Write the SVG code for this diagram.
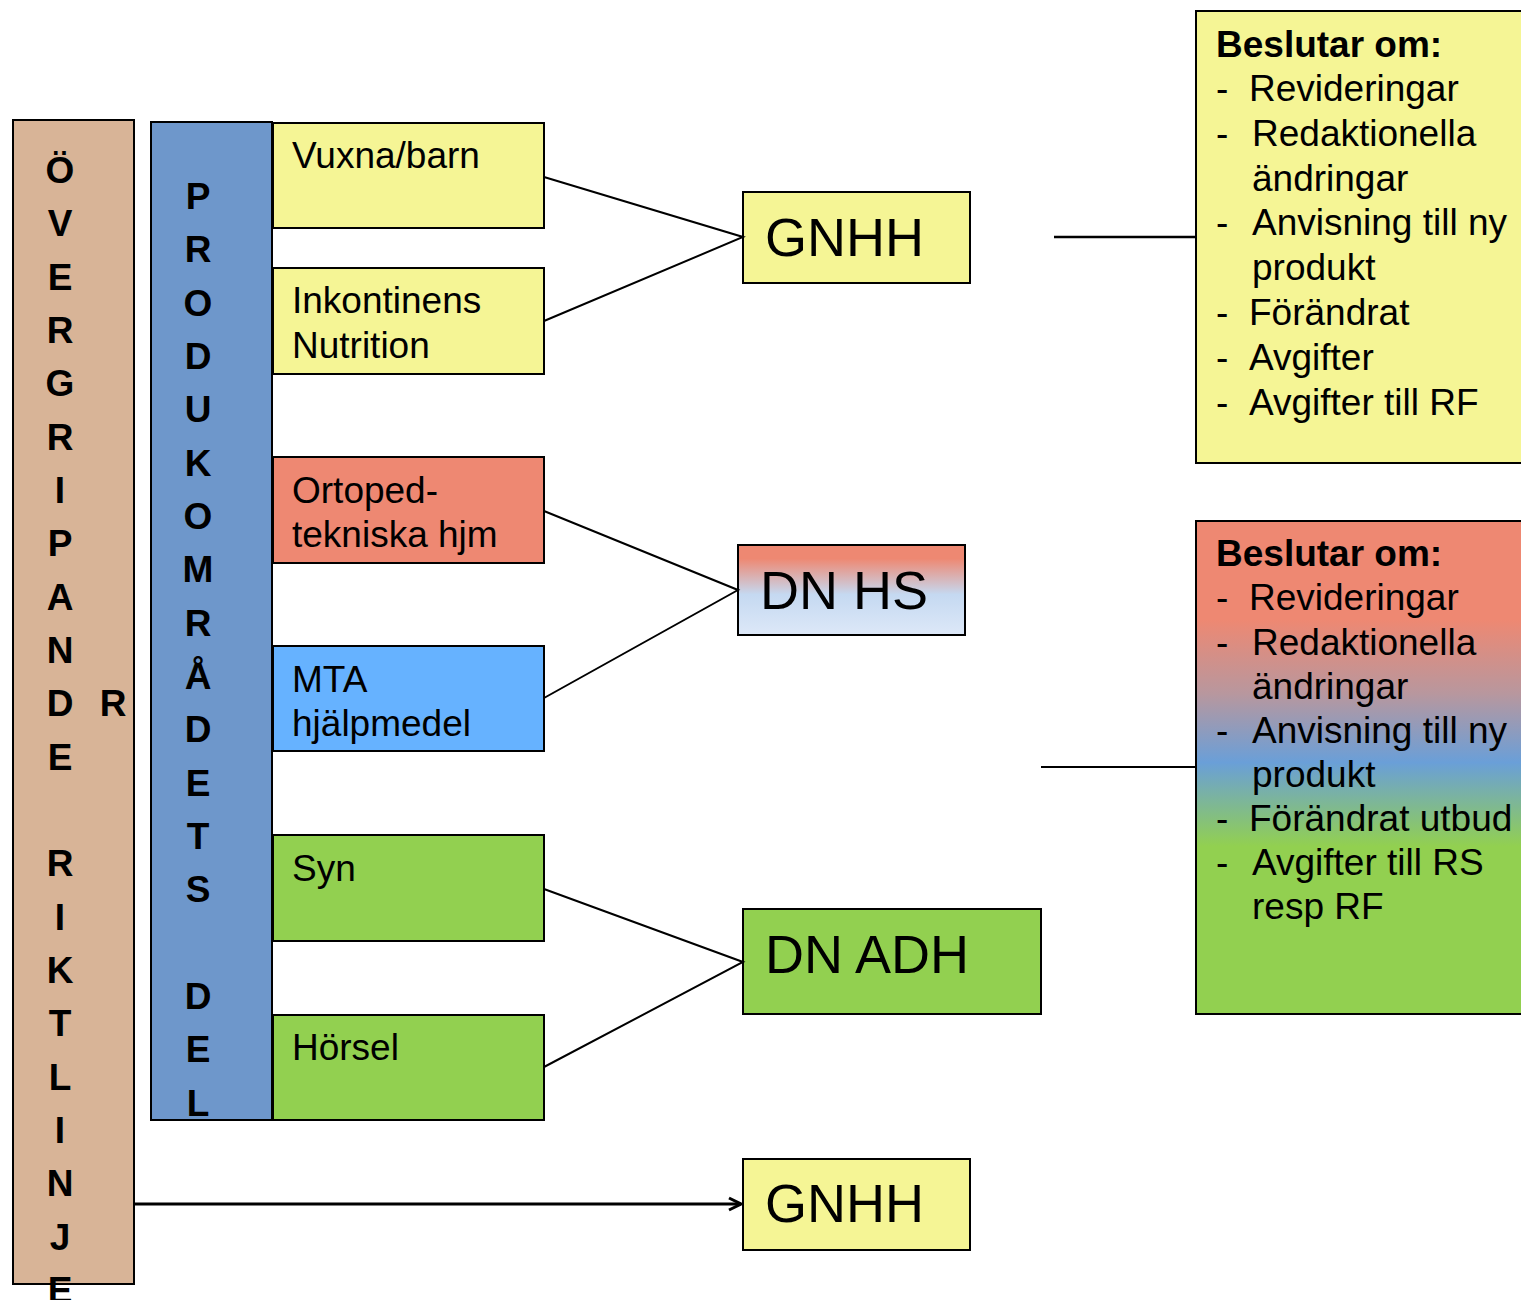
<svg xmlns="http://www.w3.org/2000/svg" width="1521" height="1300" viewBox="0 0 1521 1300">
<style>
text{font-family:"Liberation Sans",Arial,sans-serif;fill:#000}
.t{font-size:37px}
.b{font-size:37px;font-weight:bold}
.big{font-size:54px}
.box{stroke:#000;stroke-width:2}
.yel{fill:#F5F595}
.ln{stroke:#000;stroke-width:2;fill:none}
.col{font-size:37px;font-weight:bold;text-anchor:middle}
</style>
<defs>
<linearGradient id="gHS" x1="0" y1="0" x2="0" y2="1">
<stop offset="0" stop-color="#EE8872"/>
<stop offset="0.15" stop-color="#EE8872"/>
<stop offset="0.55" stop-color="#C5D9F1"/>
<stop offset="1" stop-color="#DDE8F8"/>
</linearGradient>
<linearGradient id="gR" x1="0" y1="0" x2="0" y2="1">
<stop offset="0" stop-color="#EE8872"/>
<stop offset="0.2" stop-color="#EE8872"/>
<stop offset="0.35" stop-color="#B8979E"/>
<stop offset="0.49" stop-color="#6A9FD8"/>
<stop offset="0.66" stop-color="#92D050"/>
<stop offset="1" stop-color="#92D050"/>
</linearGradient>
<marker id="arr" markerWidth="16" markerHeight="16" refX="14" refY="8" orient="auto" markerUnits="userSpaceOnUse">
<path d="M2,2 L14,8 L2,14" fill="none" stroke="#000" stroke-width="3"/>
</marker>
</defs>

<g id="col-overgripande">
<rect class="box" x="13" y="120" width="121" height="1164" fill="#D8B497"/>
<text class="col" x="60" y="183"><tspan x="60">Ö</tspan><tspan x="60" dy="53.33">V</tspan><tspan x="60" dy="53.33">E</tspan><tspan x="60" dy="53.33">R</tspan><tspan x="60" dy="53.33">G</tspan><tspan x="60" dy="53.33">R</tspan><tspan x="60" dy="53.33">I</tspan><tspan x="60" dy="53.33">P</tspan><tspan x="60" dy="53.33">A</tspan><tspan x="60" dy="53.33">N</tspan><tspan x="60" dy="53.33">D</tspan><tspan x="60" dy="53.33">E</tspan><tspan x="60" dy="106.66">R</tspan><tspan x="60" dy="53.33">I</tspan><tspan x="60" dy="53.33">K</tspan><tspan x="60" dy="53.33">T</tspan><tspan x="60" dy="53.33">L</tspan><tspan x="60" dy="53.33">I</tspan><tspan x="60" dy="53.33">N</tspan><tspan x="60" dy="53.33">J</tspan><tspan x="60" dy="53.33">E</tspan></text>
<text class="col" x="113" y="716">R</text>
</g>

<g id="col-produkt">
<rect class="box" x="151" y="122" width="121" height="998" fill="#6E97CB"/>
<text class="col" x="198" y="209"><tspan x="198">P</tspan><tspan x="198" dy="53.33">R</tspan><tspan x="198" dy="53.33">O</tspan><tspan x="198" dy="53.33">D</tspan><tspan x="198" dy="53.33">U</tspan><tspan x="198" dy="53.33">K</tspan><tspan x="198" dy="53.33">O</tspan><tspan x="198" dy="53.33">M</tspan><tspan x="198" dy="53.33">R</tspan><tspan x="198" dy="53.33">Å</tspan><tspan x="198" dy="53.33">D</tspan><tspan x="198" dy="53.33">E</tspan><tspan x="198" dy="53.33">T</tspan><tspan x="198" dy="53.33">S</tspan><tspan x="198" dy="106.66">D</tspan><tspan x="198" dy="53.33">E</tspan><tspan x="198" dy="53.33">L</tspan></text>
</g>

<g id="n-vuxna">
<rect class="box yel" x="273" y="123" width="271" height="105"/>
<text class="t" x="292" y="168">Vuxna/barn</text>
</g>
<g id="n-inkontinens">
<rect class="box yel" x="273" y="268" width="271" height="106"/>
<text class="t" x="292" y="313">Inkontinens</text>
<text class="t" x="292" y="358">Nutrition</text>
</g>
<g id="n-ortoped">
<rect class="box" x="273" y="457" width="271" height="106" fill="#EE8872"/>
<text class="t" x="292" y="503">Ortoped-</text>
<text class="t" x="292" y="547">tekniska hjm</text>
</g>
<g id="n-mta">
<rect class="box" x="273" y="646" width="271" height="105" fill="#66B2FF"/>
<text class="t" x="292" y="692">MTA</text>
<text class="t" x="292" y="736">hjälpmedel</text>
</g>
<g id="n-syn">
<rect class="box" x="273" y="835" width="271" height="106" fill="#92D050"/>
<text class="t" x="292" y="881">Syn</text>
</g>
<g id="n-horsel">
<rect class="box" x="273" y="1015" width="271" height="105" fill="#92D050"/>
<text class="t" x="292" y="1060">Hörsel</text>
</g>

<g id="n-gnhh">
<rect class="box yel" x="743" y="192" width="227" height="91"/>
<text class="big" x="765" y="256">GNHH</text>
</g>
<g id="n-dnhs">
<rect class="box" x="738" y="545" width="227" height="90" fill="url(#gHS)"/>
<text class="big" x="760" y="609">DN HS</text>
</g>
<g id="n-dnadh">
<rect class="box" x="743" y="909" width="298" height="105" fill="#92D050"/>
<text class="big" x="765" y="973">DN ADH</text>
</g>
<g id="n-gnhh2">
<rect class="box yel" x="743" y="1159" width="227" height="91"/>
<text class="big" x="765" y="1222">GNHH</text>
</g>

<g id="n-beslut1">
<rect class="box yel" x="1196" y="11" width="340" height="452"/>
<text class="b" x="1216" y="57">Beslutar om:</text>
<text class="t" x="1216" y="101">-</text><text class="t" x="1249" y="101">Revideringar</text>
<text class="t" x="1216" y="146">-</text><text class="t" x="1252" y="146">Redaktionella</text>
<text class="t" x="1252" y="191">ändringar</text>
<text class="t" x="1216" y="235">-</text><text class="t" x="1252" y="235">Anvisning till ny</text>
<text class="t" x="1252" y="280">produkt</text>
<text class="t" x="1216" y="325">-</text><text class="t" x="1249" y="325">Förändrat</text>
<text class="t" x="1216" y="370">-</text><text class="t" x="1249" y="370">Avgifter</text>
<text class="t" x="1216" y="415">-</text><text class="t" x="1249" y="415">Avgifter till RF</text>
</g>

<g id="n-beslut2">
<rect class="box" x="1196" y="521" width="340" height="493" fill="url(#gR)"/>
<text class="b" x="1216" y="566">Beslutar om:</text>
<text class="t" x="1216" y="610">-</text><text class="t" x="1249" y="610">Revideringar</text>
<text class="t" x="1216" y="655">-</text><text class="t" x="1252" y="655">Redaktionella</text>
<text class="t" x="1252" y="699">ändringar</text>
<text class="t" x="1216" y="743">-</text><text class="t" x="1252" y="743">Anvisning till ny</text>
<text class="t" x="1252" y="787">produkt</text>
<text class="t" x="1216" y="831">-</text><text class="t" x="1249" y="831">Förändrat utbud</text>
<text class="t" x="1216" y="875">-</text><text class="t" x="1252" y="875">Avgifter till RS</text>
<text class="t" x="1252" y="919">resp RF</text>
</g>

<g id="connectors">
<polyline class="ln" points="544,177 743,237 544,321"/>
<polyline class="ln" points="544,511 738,590 544,698"/>
<polyline class="ln" points="544,889 743,962 544,1067"/>
<line x1="1054" y1="237" x2="1196" y2="237" stroke="#000" stroke-width="2.5"/>
<line x1="1041" y1="767" x2="1196" y2="767" stroke="#000" stroke-width="2"/>
<line x1="134" y1="1204" x2="741" y2="1204" stroke="#000" stroke-width="3" marker-end="url(#arr)"/>
</g>
</svg>
